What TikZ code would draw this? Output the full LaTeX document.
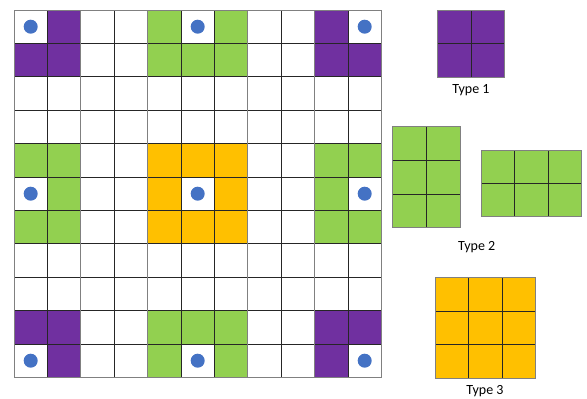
\documentclass[tikz,border=0pt]{standalone}
\usepackage{fontspec}
\setmainfont{Carlito}
\usetikzlibrary{positioning}
\definecolor{tpurple}{HTML}{7030A0}
\definecolor{tgreen}{HTML}{92D050}
\definecolor{torange}{HTML}{FFC000}
\definecolor{tblue}{HTML}{4472C4}
\newcommand{\tilegrid}[2]{%
  \foreach \i in {1,...,#1} \draw[gridline] (\i-1,0) -- (\i-1,#2);
  \foreach \j in {1,...,#2} \draw[gridline] (0,\j-1) -- (#1,\j-1);
  \draw[edgeline] (0,0) rectangle (#1,#2);}
\begin{document}
\begin{tikzpicture}[x=1pt,y=-1pt]

\tikzset{gridline/.style = {line width=0.8pt,black!85}}
\tikzset{edgeline/.style = {line width=1pt,black!50}}
\tikzset{dot/.style = {fill=tblue}}
\tikzset{typelabel/.style = {inner sep=0pt,font=\fontsize{14}{16}\selectfont}}
\useasboundingbox (0,0) rectangle (587,399);

% main board
\begin{scope}[shift={(14,10)},x=33.4pt,y=-33.4pt]
\foreach \c/\r in {1/0,0/1,1/1,9/0,9/1,10/1,0/9,1/9,1/10,9/9,10/9,9/10}
  \fill[tpurple] (\c,\r) rectangle ++(1,1);
\foreach \c/\r in {4/0,6/0,4/1,5/1,6/1,4/9,5/9,6/9,4/10,6/10,
                   0/4,1/4,1/5,0/6,1/6,9/4,10/4,9/5,9/6,10/6}
  \fill[tgreen] (\c,\r) rectangle ++(1,1);
\foreach \c/\r in {4/4,5/4,6/4,4/5,6/5,4/6,5/6,6/6}
  \fill[torange] (\c,\r) rectangle ++(1,1);
\tilegrid{11}{11}
\foreach \c in {2,4,7,9}
  \draw[edgeline] (\c,0) -- (\c,11);
% holes
\foreach \c/\r in {0/0,5/0,10/0,0/5,5/5,10/5,0/10,5/10,10/10}
  \fill[dot] (\c+0.5,\r+0.5) circle (7pt);
\end{scope}

% type 1
\begin{scope}[shift={(437.3,10)},x=33.7pt,y=-33.7pt]
\fill[tpurple] (0,0) rectangle (2,2);
\tilegrid{2}{2}
\end{scope}
\node[typelabel] (type1) at (471,90.5) {Type 1};

% type 2
\begin{scope}[shift={(392.7,126.7)},x=33.65pt,y=-33.65pt]
\fill[tgreen] (0,0) rectangle (2,3);
\tilegrid{2}{3}
\end{scope}
\begin{scope}[shift={(481,150)},x=33.55pt,y=-33.4pt]
\fill[tgreen] (0,0) rectangle (3,2);
\tilegrid{3}{2}
\end{scope}
\node[typelabel] (type2) at (476.7,247) {Type 2};

% type 3
\begin{scope}[shift={(435.3,277.7)},x=33.55pt,y=-33.55pt]
\fill[torange] (0,0) rectangle (3,3);
\tilegrid{3}{3}
\end{scope}
\node[typelabel] (type3) at (485,391) {Type 3};

\end{tikzpicture}
\end{document}
